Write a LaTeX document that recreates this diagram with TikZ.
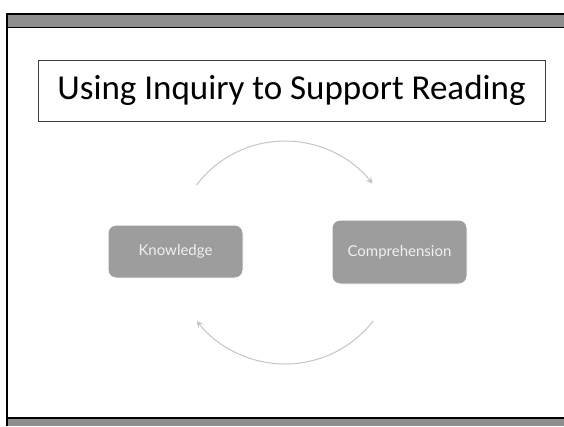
\documentclass[tikz,border=0pt]{standalone}
\usepackage{fontspec}
\setmainfont{Carlito}
\newfontfamily\boxfont{Lato}
\usetikzlibrary{arrows.meta}
\definecolor{barfill}{HTML}{8E8E8E}
\definecolor{stepfill}{HTML}{9D9D9D}
\definecolor{steptext}{HTML}{F0F0F0}
\definecolor{cyclegray}{HTML}{C4C4C4}
\definecolor{titleline}{HTML}{3C3C3C}
\tikzset{
  framebar/.style={fill=barfill, draw=none},
  frameline/.style={draw=black, line width=2pt},
  titlebox/.style={draw=titleline, line width=0.9pt, fill=white, inner sep=0pt,
    font=\fontsize{35}{40}\selectfont},
  stepbox/.style={draw=white, line width=1pt, fill=stepfill, rounded corners=8pt,
    inner sep=0pt, text=steptext, font=\boxfont\fontsize{15}{18}\selectfont},
  cyclearrow/.style={draw=cyclegray, line width=1pt,
    -{Stealth[length=7pt,width=7pt,inset=3pt]}}
}
\begin{document}
\begin{tikzpicture}[x=1pt, y=-1pt]
  \useasboundingbox (0,0) rectangle (564,426);
  % slide frame: top and bottom bars with black rules
  \fill[framebar] (6,14) rectangle (564,28);
  \fill[framebar] (6,418) rectangle (564,426);
  \draw[frameline] (6.5,426) -- (6.5,14) -- (564,14);
  \draw[black, line width=1.5pt] (6,27.5) -- (564,27.5);
  \draw[frameline] (6,417.5) -- (564,417.5);

  % title
  \node[titlebox, minimum width=507pt, minimum height=61pt] (title) at (291.5,90.5)
    {Using Inquiry to Support Reading};

  % the two steps of the cycle
  \node[stepbox, minimum width=135pt, minimum height=53pt] (knowledge) at (175.5,251.5) {Knowledge};
  \node[stepbox, minimum width=135pt, minimum height=64pt] (comprehension) at (399.5,252) {Comprehension};

  % cycle arrows around a common centre
  \coordinate (hub) at (285,252);
  \draw[cyclearrow] ([shift={(-143:111)}]hub) arc[start angle=-143, end angle=-38, radius=111];
  \draw[cyclearrow] ([shift={(38:112)}]hub) arc[start angle=38, end angle=142, radius=112];
\end{tikzpicture}
\end{document}
